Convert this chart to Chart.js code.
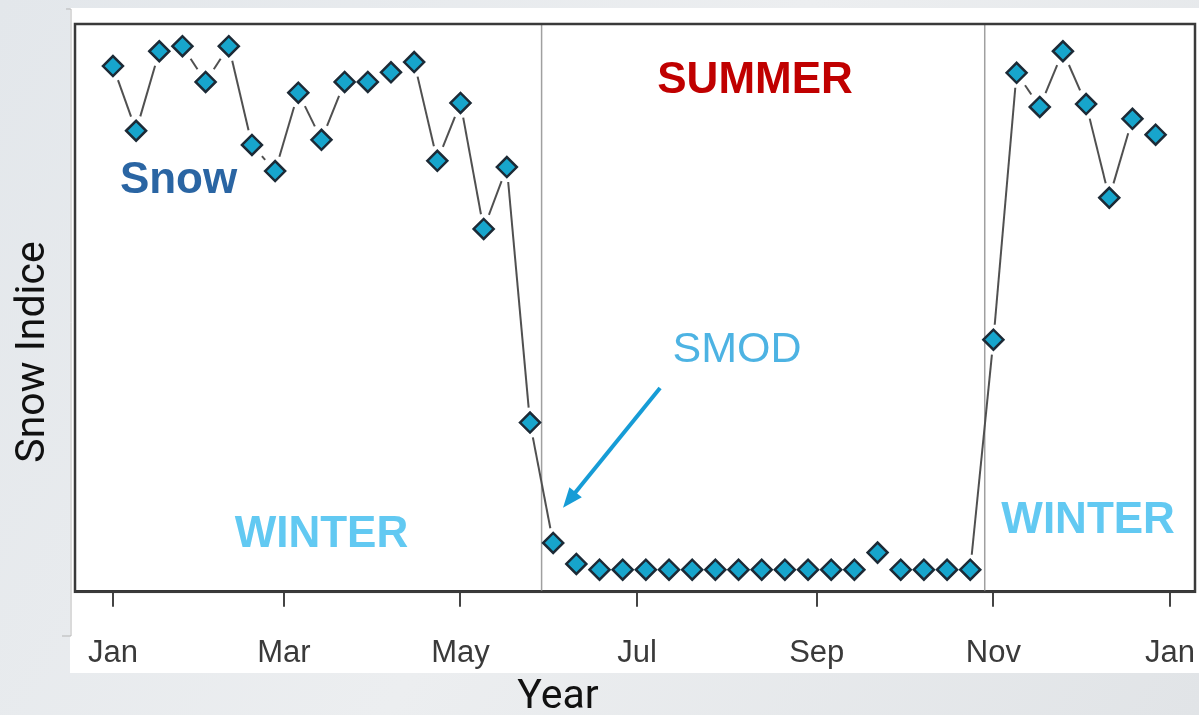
<!DOCTYPE html>
<html>
<head>
<meta charset="utf-8">
<script src="https://cdn.jsdelivr.net/npm/chart.js@4.4.1/dist/chart.umd.min.js"></script>
<style>
  html, body { margin: 0; padding: 0; background: #e6e9ec; }
  #wrap { width: 1199px; height: 715px; }
</style>
</head>
<body>
<div id="wrap"><canvas id="snowChart" width="1199" height="715"></canvas></div>
<script>
// 8-day composites, day offset from Jan 1
var dayOfYear = [0, 8, 16, 24, 32, 40, 48, 56, 64, 72, 80, 88, 96, 104, 112, 120,
  128, 136, 144, 152, 160, 168, 176, 184, 192, 200, 208, 216, 224, 232, 240, 248,
  256, 264, 272, 280, 288, 296, 304, 312, 320, 328, 336, 344, 352, 360];
var snowIndex = [92.6, 81.2, 95.2, 96.1, 89.8, 96.1, 78.7, 74.1, 87.9, 79.6, 89.8, 89.8,
  91.5, 93.3, 75.9, 86.1, 63.9, 74.8, 29.8, 8.6, 4.9, 3.9, 3.9, 3.9, 3.9, 3.9, 3.9, 3.9,
  3.9, 3.9, 3.9, 3.9, 3.9, 6.9, 3.9, 3.9, 3.9, 3.9, 44.4, 91.4, 85.4, 95.2, 85.9, 69.4,
  83.3, 80.5];
var monthTicks = [0, 59, 120, 181, 243, 304, 365];
var monthLabels = ["Jan", "Mar", "May", "Jul", "Sep", "Nov", "Jan"];
var seasonBounds = [148, 301];

// text notes drawn on the plot (day, value)
var notes = [
  { text: "SUMMER", day: 221.7, value: 87.9, color: "#c00000", font: "bold 44px 'Liberation Sans', Arial", align: "center" },
  { text: "Snow", day: 2.4, value: 70.2, color: "#2a65a3", font: "bold 44px 'Liberation Sans', Arial", align: "left" },
  { text: "WINTER", day: 72, value: 7.9, color: "#62c9f2", font: "bold 44px 'Liberation Sans', Arial", align: "center" },
  { text: "WINTER", day: 336.7, value: 10.4, color: "#62c9f2", font: "bold 44px 'Liberation Sans', Arial", align: "center" },
  { text: "SMOD", day: 215.5, value: 40.5, color: "#4db3e3", font: "43px 'Liberation Sans', Arial", align: "center" }
];
var smodArrow = { fromDay: 188.9, fromValue: 35.9, toDay: 155.4, toValue: 14.8 };

var points = dayOfYear.map(function (d, i) { return { x: d, y: snowIndex[i] }; });

var backdrop = {
  id: "backdrop",
  beforeDraw: function (chart) {
    var ctx = chart.ctx;
    ctx.save();
    var g = ctx.createLinearGradient(0, 0, 1199, 715);
    g.addColorStop(0, "#e3e7eb");
    g.addColorStop(0.5, "#eceef0");
    g.addColorStop(1, "#e1e4e7");
    ctx.fillStyle = g;
    ctx.fillRect(0, 0, chart.width, chart.height);
    ctx.fillStyle = "#ffffff";
    ctx.fillRect(70, 8, chart.width - 70, 665);
    ctx.strokeStyle = "#b5b5b5";
    ctx.lineWidth = 1;
    ctx.beginPath();
    ctx.moveTo(66, 9); ctx.lineTo(71, 9); ctx.lineTo(71, 636); ctx.lineTo(62, 636);
    ctx.stroke();
    ctx.restore();
  }
};

var decor = {
  id: "decor",
  beforeDatasetsDraw: function (chart) {
    var ctx = chart.ctx, a = chart.chartArea;
    var xs = chart.scales.x;
    ctx.save();
    // season boundaries
    ctx.strokeStyle = "#a0a0a0";
    ctx.lineWidth = 1.5;
    seasonBounds.forEach(function (d) {
      var px = xs.getPixelForValue(d);
      ctx.beginPath(); ctx.moveTo(px, a.top); ctx.lineTo(px, a.bottom); ctx.stroke();
    });
    // connecting segments with gaps round the markers
    var pts = chart.getDatasetMeta(0).data;
    var gap = 15;
    ctx.strokeStyle = "#505050";
    ctx.lineWidth = 2;
    for (var i = 1; i < pts.length; i++) {
      var p0 = pts[i - 1], p1 = pts[i];
      var dx = p1.x - p0.x, dy = p1.y - p0.y;
      var len = Math.sqrt(dx * dx + dy * dy);
      if (len <= 2 * gap + 2) continue;
      var ux = dx / len, uy = dy / len;
      ctx.beginPath();
      ctx.moveTo(p0.x + ux * gap, p0.y + uy * gap);
      ctx.lineTo(p1.x - ux * gap, p1.y - uy * gap);
      ctx.stroke();
    }
    // plot frame
    ctx.strokeStyle = "#3a3a3a";
    ctx.lineWidth = 2.5;
    ctx.strokeRect(a.left, a.top, a.right - a.left, a.bottom - a.top);
    ctx.restore();
  },
  afterDatasetsDraw: function (chart) {
    var ctx = chart.ctx;
    var xs = chart.scales.x, ys = chart.scales.y;
    ctx.save();
    notes.forEach(function (n) {
      ctx.font = n.font;
      ctx.fillStyle = n.color;
      ctx.textAlign = n.align;
      ctx.textBaseline = "alphabetic";
      ctx.fillText(n.text, xs.getPixelForValue(n.day), ys.getPixelForValue(n.value));
    });
    // SMOD arrow
    var x0 = xs.getPixelForValue(smodArrow.fromDay), y0 = ys.getPixelForValue(smodArrow.fromValue);
    var x1 = xs.getPixelForValue(smodArrow.toDay), y1 = ys.getPixelForValue(smodArrow.toValue);
    var ang = Math.atan2(y1 - y0, x1 - x0);
    var head = 20;
    ctx.strokeStyle = "#169cd6";
    ctx.fillStyle = "#169cd6";
    ctx.lineWidth = 4;
    ctx.beginPath();
    ctx.moveTo(x0, y0);
    ctx.lineTo(x1 - Math.cos(ang) * (head - 4), y1 - Math.sin(ang) * (head - 4));
    ctx.stroke();
    ctx.beginPath();
    ctx.moveTo(x1, y1);
    ctx.lineTo(x1 - head * Math.cos(ang) + 8 * Math.sin(ang), y1 - head * Math.sin(ang) - 8 * Math.cos(ang));
    ctx.lineTo(x1 - head * Math.cos(ang) - 8 * Math.sin(ang), y1 - head * Math.sin(ang) + 8 * Math.cos(ang));
    ctx.closePath();
    ctx.fill();
    // axis titles
    ctx.fillStyle = "#111111";
    ctx.font = "41px Roboto";
    ctx.textAlign = "center";
    ctx.textBaseline = "alphabetic";
    ctx.fillText("Year", 558, 708);
    ctx.translate(44, 352);
    ctx.rotate(-Math.PI / 2);
    ctx.fillText("Snow Indice", 0, 0);
    ctx.restore();
  }
};

new Chart(document.getElementById("snowChart"), {
  type: "line",
  data: {
    datasets: [{
      label: "Snow Indice",
      data: points,
      showLine: false,
      pointStyle: "rectRot",
      pointRadius: 10,
      pointHoverRadius: 10,
      pointBackgroundColor: "#17a5cc",
      pointBorderColor: "#1c2a36",
      pointBorderWidth: 2.5
    }]
  },
  options: {
    responsive: false,
    animation: false,
    layout: { autoPadding: false, padding: { left: 75, top: 24, right: 4, bottom: 15 } },
    plugins: {
      legend: { display: false },
      tooltip: { enabled: false }
    },
    scales: {
      x: {
        type: "linear",
        min: -13.1,
        max: 373.6,
        afterBuildTicks: function (scale) {
          scale.ticks = monthTicks.map(function (v) { return { value: v }; });
        },
        afterFit: function (scale) {
          scale.paddingLeft = 0;
          scale.paddingRight = 0;
        },
        ticks: {
          autoSkip: false,
          maxRotation: 0,
          padding: 28,
          color: "#3a3a3a",
          font: { family: "'Liberation Sans', Arial", size: 31 },
          callback: function (v, i) { return monthLabels[i]; }
        },
        grid: { drawOnChartArea: false, drawTicks: true, tickLength: 15, color: "#444444", lineWidth: 2 },
        border: { display: true, color: "#333333", width: 3 }
      },
      y: {
        display: false,
        min: 0,
        max: 100
      }
    }
  },
  plugins: [backdrop, decor]
});
</script>
</body>
</html>
